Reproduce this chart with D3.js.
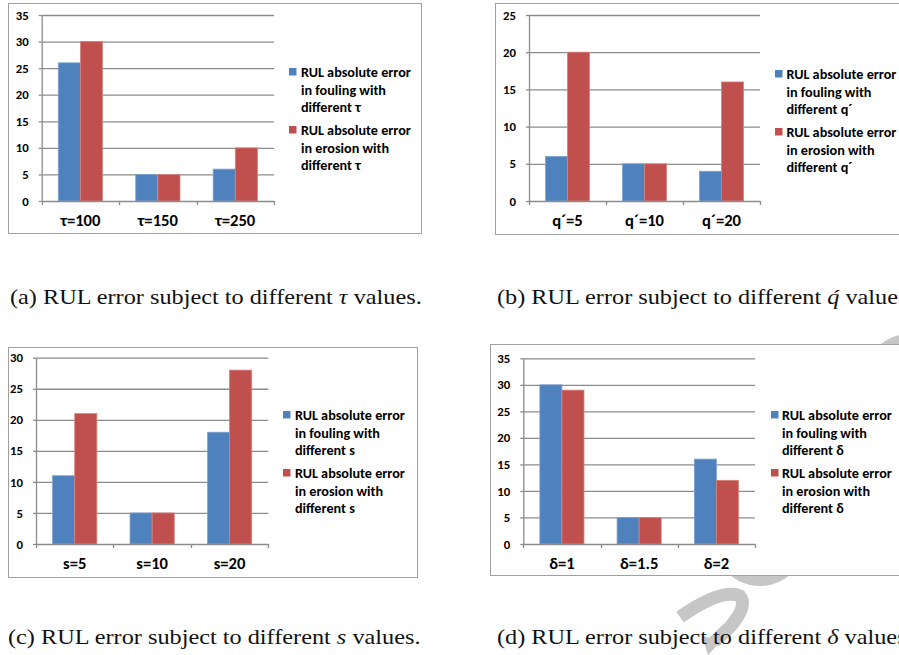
<!DOCTYPE html>
<html>
<head>
<meta charset="utf-8">
<script src="https://cdn.jsdelivr.net/npm/d3@7"></script>
<style>
  html, body { margin: 0; padding: 0; background: #fff; }
  svg { display: block; }
</style>
</head>
<body>
<svg id="fig" width="899" height="655"></svg>
<script>
// ---- data ----
const seriesNames = ["fouling", "erosion"];

const tauCategories = ["τ=100", "τ=150", "τ=250"];
const tauFouling = [26, 5, 6];
const tauErosion = [30, 5, 10];
const tauTicks = [0, 5, 10, 15, 20, 25, 30, 35];

const qCategories = ["q´=5", "q´=10", "q´=20"];
const qFouling = [6, 5, 4];
const qErosion = [20, 5, 16];
const qTicks = [0, 5, 10, 15, 20, 25];

const sCategories = ["s=5", "s=10", "s=20"];
const sFouling = [11, 5, 18];
const sErosion = [21, 5, 28];
const sTicks = [0, 5, 10, 15, 20, 25, 30];

const deltaCategories = ["δ=1", "δ=1.5", "δ=2"];
const deltaFouling = [30, 5, 16];
const deltaErosion = [29, 5, 12];
const deltaTicks = [0, 5, 10, 15, 20, 25, 30, 35];

const legendFouling = ["RUL absolute error", "in fouling with", "different "];
const legendErosion = ["RUL absolute error", "in erosion with", "different "];

const captionA = [["(a) RUL error subject to different ", false], ["τ", true], [" values.", false]];
const captionB = [["(b) RUL error subject to different ", false], ["q\u0301", true], [" values.", false]];
const captionC = [["(c) RUL error subject to different ", false], ["s", true], [" values.", false]];
const captionD = [["(d) RUL error subject to different ", false], ["δ", true], [" values.", false]];

// ---- style ----
const BLUE = "#4f81bd", BLUE_EDGE = "#7fa3d1";
const RED = "#c0504d", RED_EDGE = "#d5827f";
const GRID = "#8c8c8c";
const CHART_FONT = "Carlito, Lato, 'Open Sans', sans-serif";
const CAPTION_FONT = "'Liberation Serif', 'Times New Roman', serif";
const MARK = "#c6c6c6";

const svg = d3.select("#fig");

// measure a bold chart string so the type can be sized to a target width
function measure(str, size, family, weight) {
  const t = svg.append("text").attr("font-family", family).attr("font-size", size)
    .attr("font-weight", weight).text(str);
  const w = t.node().getComputedTextLength();
  t.remove();
  return w;
}
const LEGEND_SIZE = 12 * 110 / measure("RUL absolute error", 12, CHART_FONT, "bold");
const TICK_SIZE = 12 * 13 / measure("35", 12, CHART_FONT, "bold");
const CAT_SIZE = 12 * 40 / measure("τ=100", 12, CHART_FONT, "bold");

// faint background watermark strokes (sit behind the chart panels)
const wm = svg.append("g").attr("fill", "none").attr("stroke", MARK).attr("stroke-linecap", "butt");
wm.append("circle").attr("cx", 760).attr("cy", 540).attr("r", 40).attr("stroke-width", 12);
wm.append("circle").attr("cx", 912).attr("cy", 384).attr("r", 44).attr("stroke-width", 13);
wm.append("path").attr("d", "M680,617 Q722,588 740,596 Q748,606 730,627 L714,642").attr("stroke-width", 13);
wm.append("path").attr("d", "M702,636 L722,640 L708,655 Z").attr("fill", MARK).attr("stroke", "none");

const panels = [
  { categories: tauCategories, fouling: tauFouling, erosion: tauErosion, ticks: tauTicks, symbol: "τ",
    box: { x: 8, y: 3, w: 413, h: 230 }, plot: { x0: 41.7, x1: 274, yTop: 15, yBot: 201 },
    legend: { sqX: 289, textX: 301, y0: 72 }, catY: 220 },
  { categories: qCategories, fouling: qFouling, erosion: qErosion, ticks: qTicks, symbol: "q´",
    box: { x: 495, y: 3, w: 480, h: 231 }, plot: { x0: 529, x1: 760, yTop: 15, yBot: 201 },
    legend: { sqX: 775, textX: 786.5, y0: 74 }, catY: 220 },
  { categories: sCategories, fouling: sFouling, erosion: sErosion, ticks: sTicks, symbol: "s",
    box: { x: 8, y: 347, w: 409, h: 230 }, plot: { x0: 36, x1: 268.3, yTop: 357.7, yBot: 544 },
    legend: { sqX: 283, textX: 295, y0: 415 }, catY: 563 },
  { categories: deltaCategories, fouling: deltaFouling, erosion: deltaErosion, ticks: deltaTicks, symbol: "δ",
    box: { x: 490, y: 344, w: 480, h: 231 }, plot: { x0: 523.3, x1: 755, yTop: 358.3, yBot: 544 },
    legend: { sqX: 771, textX: 782, y0: 415 }, catY: 563 }
];

function drawPanel(p) {
  const g = svg.append("g");

  g.append("rect")
    .attr("x", p.box.x + 0.5).attr("y", p.box.y + 0.5)
    .attr("width", p.box.w).attr("height", p.box.h)
    .attr("fill", "#fff").attr("stroke", "#a0a0a0").attr("stroke-width", 1);

  const y = d3.scaleLinear().domain([0, d3.max(p.ticks)]).range([p.plot.yBot, p.plot.yTop]);
  const x = d3.scaleBand().domain(p.categories).range([p.plot.x0, p.plot.x1]);
  const xs = d3.scaleBand().domain(seriesNames).range([0, x.bandwidth()]).paddingOuter(0.75);

  // horizontal gridlines
  g.append("g")
    .attr("transform", `translate(${p.plot.x0},0)`)
    .call(d3.axisLeft(y).tickValues(p.ticks.filter(t => t > 0))
      .tickSize(-(p.plot.x1 - p.plot.x0)).tickFormat(""))
    .call(a => a.select(".domain").remove())
    .selectAll("line").attr("stroke", GRID).attr("stroke-width", 1.3);

  // bars
  const rows = p.categories.map((c, i) => ({ cat: c, fouling: p.fouling[i], erosion: p.erosion[i] }));
  const colors = { fouling: [BLUE, BLUE_EDGE], erosion: [RED, RED_EDGE] };
  const grp = g.append("g").selectAll("g").data(rows).join("g")
    .attr("transform", d => `translate(${x(d.cat)},0)`);
  grp.selectAll("rect")
    .data(d => seriesNames.map(s => ({ s, v: d[s] })))
    .join("rect")
    .attr("x", d => xs(d.s))
    .attr("y", d => y(d.v))
    .attr("width", xs.bandwidth())
    .attr("height", d => y(0) - y(d.v))
    .attr("fill", d => colors[d.s][0])
    .attr("stroke", d => colors[d.s][1])
    .attr("stroke-width", 0.8);

  // y axis
  const ya = g.append("g")
    .attr("transform", `translate(${p.plot.x0},0)`)
    .call(d3.axisLeft(y).tickValues(p.ticks).tickSize(3).tickSizeOuter(0).tickPadding(10));
  ya.select(".domain").attr("stroke", GRID).attr("stroke-width", 1.3);
  ya.selectAll(".tick line").attr("stroke", GRID).attr("stroke-width", 1.3);
  ya.selectAll("text")
    .attr("font-family", CHART_FONT).attr("font-size", TICK_SIZE).attr("font-weight", "bold").attr("fill", "#000");

  // x axis
  const xa = g.append("g")
    .attr("transform", `translate(0,${p.plot.yBot})`)
    .call(d3.axisBottom(x).tickSize(0).tickSizeOuter(0).tickPadding(p.catY - p.plot.yBot - 0.36 * CAT_SIZE));
  xa.select(".domain").attr("stroke", GRID).attr("stroke-width", 1.3);
  xa.selectAll("text")
    .attr("font-family", CHART_FONT).attr("font-size", CAT_SIZE).attr("font-weight", "bold").attr("fill", "#000");
  const bounds = p.categories.map(c => x(c)).concat([x.range()[1]]);
  xa.selectAll(".bound").data(bounds).join("line")
    .attr("class", "bound")
    .attr("x1", d => Math.round(d) + 0.5).attr("x2", d => Math.round(d) + 0.5)
    .attr("y1", 0).attr("y2", 4)
    .attr("stroke", GRID).attr("stroke-width", 1.3);

  // legend
  const entries = [
    { lines: legendFouling, color: BLUE, top: p.legend.y0 },
    { lines: legendErosion, color: RED, top: p.legend.y0 + 58 }
  ];
  entries.forEach(e => {
    g.append("rect")
      .attr("x", p.legend.sqX).attr("y", e.top - 4)
      .attr("width", 7.5).attr("height", 7.5)
      .attr("fill", e.color);
    const t = g.append("text")
      .attr("font-family", CHART_FONT).attr("font-size", LEGEND_SIZE).attr("font-weight", "bold").attr("fill", "#000");
    e.lines.forEach((ln, i) => {
      t.append("tspan")
        .attr("x", p.legend.textX)
        .attr("y", e.top + i * 17.6)
        .attr("dy", "0.35em")
        .text(i === 2 ? ln + p.symbol : ln);
    });
  });
}

panels.forEach(drawPanel);

// ---- captions ----
function drawCaption(parts, x, y, sx) {
  const t = svg.append("text")
    .attr("transform", `translate(${x},${y}) scale(${sx},1)`)
    .attr("font-family", CAPTION_FONT).attr("font-size", 21).attr("fill", "#111");
  parts.forEach(([s, it]) => {
    t.append("tspan").attr("font-style", it ? "italic" : null).text(s);
  });
  return t;
}

const probe = drawCaption(captionA, 10, 303, 1);
const naturalW = probe.node().getComputedTextLength();
probe.remove();
const sx = 412 / naturalW;
drawCaption(captionA, 10, 304, sx);
drawCaption(captionB, 497, 304, sx);
drawCaption(captionC, 8, 644, sx);
drawCaption(captionD, 497, 644, sx);
</script>
</body>
</html>
